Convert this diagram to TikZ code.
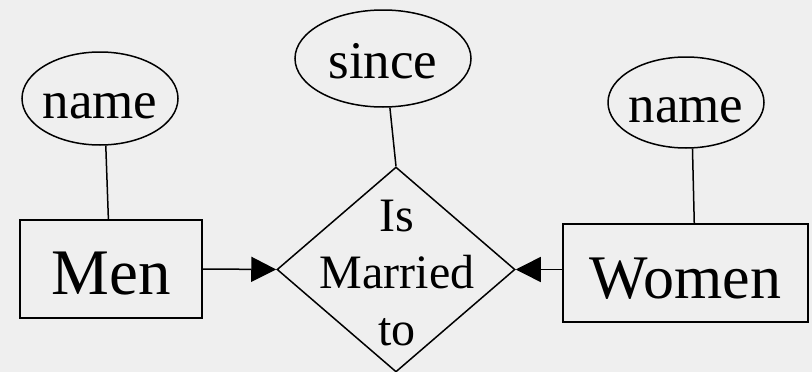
\documentclass[tikz,border=0pt]{standalone}
\usepackage{fontspec}
\setmainfont{Liberation Serif}
\usetikzlibrary{shapes.geometric,arrows.meta}
\definecolor{bggray}{HTML}{EFEFEF}

\begin{document}
\begin{tikzpicture}[x=1pt,y=-1pt,
		entity/.style={draw, line width=1.5pt, rectangle, inner sep=0pt, minimum height=98pt, text height=51pt, text depth=0pt, font=\fontsize{62}{62}\selectfont},
		attrib/.style={draw, line width=1.5pt, ellipse, inner xsep=-3pt, inner ysep=0pt, text height=39pt, text depth=0pt, font=\fontsize{53}{53}\selectfont},
		relship/.style={draw, line width=1.5pt, diamond, inner sep=0pt, minimum width=238pt, minimum height=205pt},
		link/.style={line width=1.5pt},
		card/.style={line width=1.5pt, -{Triangle[length=25pt,width=25pt]}}]
			\fill[bggray] (0,0) rectangle (812,372);
			\useasboundingbox (0,0) rectangle (812,372);

			% entities and the relationship
			\node[entity, minimum width=182pt, font=\fontsize{65}{65}\selectfont] (men) at (111,269) {Men};
			\node[entity, minimum width=245pt] (women) at (685.5,273) {Women};
			\node[relship] (marry) at (396,269.5) {};
			\node[align=center, font=\fontsize{48}{57}\selectfont] (marrytext) at (397,273) {Is\\Married\\to};

			% attributes
			\node[attrib, minimum width=156pt, minimum height=93pt] (menname) at (100,98.5) {name};
			\node[attrib, minimum width=176pt, minimum height=97pt] (since) at (383,58.5) {since};
			\node[attrib, minimum width=156pt, minimum height=91pt] (womenname) at (686,102.5) {name};

			\draw[link] (menname.-83) -- (men.93.5);
			\draw[link] (since.-82) -- (marry.north);
			\draw[link] (womenname.-82.5) -- (women.80);

			\draw[card] (men.east) -- (marry.west);
			\draw[card] (women.west |- marry.east) -- (marry.east);
		\end{tikzpicture}
\end{document}
